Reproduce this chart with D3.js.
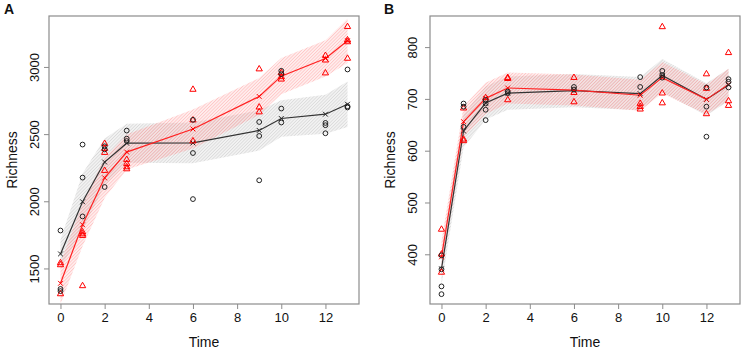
<!DOCTYPE html>
<html lang="en">
<head>
<meta charset="UTF-8">
<title>Richness over time</title>
<script src="https://d3js.org/d3.v7.min.js"></script>
<style>
  body { margin: 0; background: #fff; }
  text { font-family: "Liberation Sans", Arial, sans-serif; fill: #111; }
</style>
</head>
<body>
<div id="chart"></div>
<script>
// sampling times
const times = [0, 1, 2, 3, 6, 9, 10, 12, 13];

// panel A – raw points per time (black circles / red triangles)
const aBlackPts = [
  [1786, 1351, 1335], [2426, 2180, 1891], [2413, 2390, 2110], [2530, 2470, 2452],
  [2610, 2363, 2020], [2594, 2490, 2160], [2975, 2950, 2694, 2590], [2587, 2570, 2510],
  [2985, 2711, 2702]
];
const aRedPts = [
  [1545, 1530, 1314], [1775, 1760, 1748, 1374], [2433, 2396, 2366, 2232], [2314, 2284, 2259, 2244],
  [2836, 2608, 2452], [2988, 2704, 2668], [2960, 2930, 2912], [3088, 3054, 2958],
  [3303, 3204, 3190, 3067]
];
// fitted values (x marks) and band half widths
const aBlackFit = [1612, 2000, 2296, 2436, 2438, 2531, 2620, 2652, 2726];
const aBlackBand = [105, 210, 175, 145, 152, 150, 135, 145, 170];
const aRedFit = [1393, 1829, 2178, 2370, 2542, 2784, 2935, 3067, 3199];
const aRedBand = [155, 160, 150, 130, 145, 137, 135, 135, 165];
const aTicks = [1500, 2000, 2500, 3000];

// panel B
const bBlackPts = [
  [399, 372, 339, 324], [692, 686, 647], [699, 692, 680, 660], [715, 712],
  [724, 719], [743, 724], [755, 747, 742], [723, 686, 628], [739, 734, 723]
];
const bRedPts = [
  [449, 401, 366], [683, 623, 620], [703], [742, 740, 699],
  [742, 713, 695], [692, 686, 681], [840, 712, 693], [749, 721, 672], [790, 697, 688]
];
const bBlackFit = [373, 639, 693, 712, 717, 711, 746, 700, 728];
const bBlackBand = [32, 32, 32, 32, 32, 32, 32, 31, 31];
const bRedFit = [396, 657, 702, 722, 718, 708, 742, 700, 729];
const bRedBand = [30, 30, 30, 30, 30, 30, 30, 29, 30];
const bTicks = [400, 500, 600, 700, 800];

const xTicks = [0, 2, 4, 6, 8, 10, 12];

const svg = d3.select("#chart").append("svg")
  .attr("width", 743).attr("height", 350);

// hatching patterns
const defs = svg.append("defs");
function hatch(id, color, bg) {
  const p = defs.append("pattern")
    .attr("id", id)
    .attr("patternUnits", "userSpaceOnUse")
    .attr("width", 2.3).attr("height", 2.3)
    .attr("patternTransform", "rotate(45)");
  p.append("rect").attr("width", 2.3).attr("height", 2.3).attr("fill", bg);
  p.append("line")
    .attr("x1", 0).attr("y1", 0).attr("x2", 0).attr("y2", 2.3)
    .attr("stroke", color).attr("stroke-width", 0.9);
}
hatch("hatchGray", "#c8c8c8", "rgba(0,0,0,0.05)");
hatch("hatchRed", "#ffa8a8", "rgba(255,0,0,0.07)");

function drawPanel(cfg) {
  const x = d3.scaleLinear().domain([-0.52, 13.52]).range([cfg.left, cfg.right]);
  const y = d3.scaleLinear().domain(cfg.yDomain).range([304, 16]);
  const g = svg.append("g");

  // bands
  const area = d3.area()
    .x(d => x(d.t)).y0(d => y(d.lo)).y1(d => y(d.hi));
  const bandData = (fit, hw) => times.map((t, i) => ({ t: t, lo: fit[i] - hw[i], hi: fit[i] + hw[i] }));

  const clipId = "clip" + cfg.label;
  defs.append("clipPath").attr("id", clipId).append("rect")
    .attr("x", cfg.left).attr("y", 16).attr("width", cfg.right - cfg.left).attr("height", 288);

  const inner = g.append("g").attr("clip-path", `url(#${clipId})`);
  inner.append("path").attr("d", area(bandData(cfg.blackFit, cfg.blackBand)))
    .attr("fill", "url(#hatchGray)");
  inner.append("path").attr("d", area(bandData(cfg.redFit, cfg.redBand)))
    .attr("fill", "url(#hatchRed)");

  // fitted lines
  const line = d3.line().x((d, i) => x(times[i])).y(d => y(d));
  inner.append("path").attr("d", line(cfg.blackFit))
    .attr("fill", "none").attr("stroke", "#333").attr("stroke-width", 1.2);
  inner.append("path").attr("d", line(cfg.redFit))
    .attr("fill", "none").attr("stroke", "#f22").attr("stroke-width", 1.2);

  // x marks
  function cross(fit, color) {
    fit.forEach((v, i) => {
      const cx = x(times[i]), cy = y(v), s = 2.4;
      inner.append("path")
        .attr("d", `M${cx - s},${cy - s}L${cx + s},${cy + s}M${cx - s},${cy + s}L${cx + s},${cy - s}`)
        .attr("stroke", color).attr("stroke-width", 1);
    });
  }
  cross(cfg.blackFit, "#222");
  cross(cfg.redFit, "#f00");

  // raw points
  const tri = d3.symbol().type(d3.symbolTriangle).size(17);
  cfg.redPts.forEach((vals, i) => {
    vals.forEach(v => {
      inner.append("path").attr("d", tri())
        .attr("transform", `translate(${x(times[i])},${y(v)})`)
        .attr("fill", "none").attr("stroke", "#f00").attr("stroke-width", 1);
    });
  });
  cfg.blackPts.forEach((vals, i) => {
    vals.forEach(v => {
      inner.append("circle")
        .attr("cx", x(times[i])).attr("cy", y(v)).attr("r", 2.4)
        .attr("fill", "none").attr("stroke", "#222").attr("stroke-width", 1);
    });
  });

  // frame
  g.append("rect")
    .attr("x", cfg.left).attr("y", 16)
    .attr("width", cfg.right - cfg.left).attr("height", 288)
    .attr("fill", "none").attr("stroke", "#8c8c8c").attr("stroke-width", 1.2);

  // axes
  const xAxis = g.append("g").attr("transform", "translate(0,304)")
    .call(d3.axisBottom(x).tickValues(xTicks).tickSize(5).tickPadding(4).tickFormat(d3.format("d")));
  xAxis.select(".domain").remove();
  xAxis.selectAll("line").attr("stroke", "#8c8c8c");
  xAxis.selectAll("text").style("font-size", "13px").attr("fill", "#111");

  const yAxis = g.append("g").attr("transform", `translate(${cfg.left},0)`)
    .call(d3.axisLeft(y).tickValues(cfg.yTicks).tickSize(5).tickFormat(d3.format("d")));
  yAxis.select(".domain").remove();
  yAxis.selectAll("line").attr("stroke", "#8c8c8c");
  yAxis.selectAll("text")
    .style("font-size", "13px").attr("fill", "#111")
    .attr("text-anchor", "middle")
    .attr("x", 0).attr("dy", 0)
    .attr("transform", d => `translate(${cfg.tickLabelX - cfg.left},${y(d)}) rotate(-90)`)
    .attr("y", 0)
    .attr("dominant-baseline", "central");
  yAxis.selectAll(".tick").attr("transform", null);
  yAxis.selectAll(".tick line").attr("transform", d => `translate(0,${y(d)})`);

  // labels
  g.append("text").attr("x", (cfg.left + cfg.right) / 2).attr("y", 347)
    .attr("text-anchor", "middle").style("font-size", "14px").text("Time");
  g.append("text")
    .attr("transform", `translate(${cfg.titleX},160) rotate(-90)`)
    .attr("text-anchor", "middle").attr("dominant-baseline", "central")
    .style("font-size", "14px").text("Richness");
  g.append("text").attr("x", cfg.letterX).attr("y", 14)
    .style("font-size", "14px").style("font-weight", "bold").text(cfg.label);
}

drawPanel({
  label: "A", left: 49, right: 359, yDomain: [1239, 3383], yTicks: aTicks,
  tickLabelX: 34, titleX: 12, letterX: 4,
  blackPts: aBlackPts, redPts: aRedPts,
  blackFit: aBlackFit, blackBand: aBlackBand, redFit: aRedFit, redBand: aRedBand
});
drawPanel({
  label: "B", left: 430, right: 740, yDomain: [305, 861], yTicks: bTicks,
  tickLabelX: 412, titleX: 390, letterX: 384,
  blackPts: bBlackPts, redPts: bRedPts,
  blackFit: bBlackFit, blackBand: bBlackBand, redFit: bRedFit, redBand: bRedBand
});
</script>
</body>
</html>
